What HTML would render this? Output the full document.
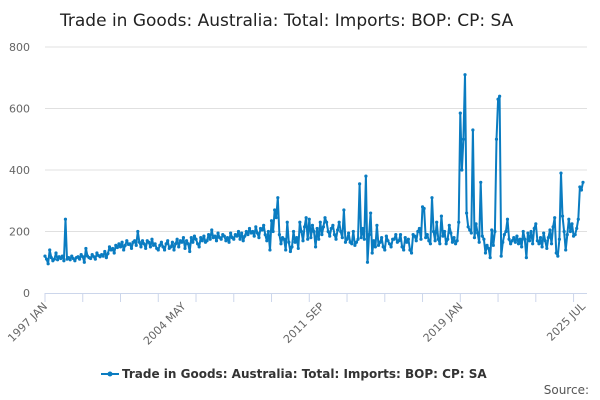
<!DOCTYPE html>
<html><head><meta charset="utf-8"><style>
body{margin:0;background:#fff;font-family:"DejaVu Sans","Liberation Sans",sans-serif}
svg{display:block;font-family:"DejaVu Sans","Liberation Sans",sans-serif}
</style></head><body>
<svg id="chart" width="600" height="400">
<text x="60" y="26" font-size="17" fill="#222">Trade in Goods: Australia: Total: Imports: BOP: CP: SA</text>
<g id="grid"></g><g id="axes"></g><g id="series"></g>
<g>
<line x1="101" y1="374" x2="119" y2="374" stroke="#0a7cc1" stroke-width="2"/>
<circle cx="110" cy="374" r="2.5" fill="#0a7cc1"/>
<text x="122" y="378" font-size="12" font-weight="bold" fill="#333">Trade in Goods: Australia: Total: Imports: BOP: CP: SA</text>
</g>
<text x="589" y="394" font-size="12" fill="#555" text-anchor="end">Source:</text>
</svg>
<script>
const startYear = 1997;
const yTicks = [0,200,400,600,800];
const xTickLabels = ["1997 JAN","2004 MAY","2011 SEP","2019 JAN","2025 JUL"];
const xTickIndex = [0,88,176,264,342];
const values = [
120,110,95,140,115,105,110,130,108,118,112,120,
105,240,110,115,108,120,112,105,115,118,110,125,
118,100,145,120,115,112,125,118,110,130,122,118,
125,120,135,115,128,150,140,145,130,155,148,160,
150,165,140,155,170,158,160,145,165,170,155,200,
165,150,170,160,145,170,165,150,175,155,160,145,
140,155,165,150,140,160,170,145,150,165,140,160,
175,150,170,165,180,145,170,160,135,180,165,185,
175,160,150,180,170,185,165,170,190,175,205,180,
185,170,195,180,175,190,185,170,180,165,195,180,
175,190,185,200,175,195,170,185,200,190,210,195,
200,185,215,195,180,210,205,220,190,170,200,140,
235,200,270,245,310,190,160,180,175,140,230,165,
135,150,200,165,180,145,230,200,170,215,245,175,
240,180,220,200,150,210,175,230,190,215,245,230,
200,185,210,220,190,175,205,230,200,180,270,165,
175,195,165,160,200,155,165,175,355,180,210,175,
380,100,190,260,130,170,150,220,155,165,180,150,
140,185,170,160,150,175,175,190,165,170,190,150,
140,180,165,175,140,130,190,185,170,200,210,175,
280,275,180,190,170,160,310,200,170,230,175,160,
250,185,200,160,175,220,195,165,180,160,170,230,
585,400,500,710,260,215,205,195,530,180,225,195,
165,360,185,175,130,155,145,115,205,155,200,500,
630,640,120,165,190,200,240,175,160,170,180,165,
185,160,175,150,200,175,115,195,170,200,160,210,
225,170,160,180,150,195,170,145,180,205,160,215,
245,130,120,175,390,250,200,140,190,240,200,225,
185,190,210,240,345,335,360];

const NS="http://www.w3.org/2000/svg";
const x0=45,x1=583,yBase=293,yTop=47;
const n=values.length;
const xs=i=>x0+i*(x1-x0)/(n-1);
const ys=v=>yBase-v*(yBase-yTop)/800;
function mk(tag,attrs,parent){const e=document.createElementNS(NS,tag);for(const k in attrs)e.setAttribute(k,attrs[k]);parent.appendChild(e);return e;}
const grid=document.getElementById('grid'),axes=document.getElementById('axes'),ser=document.getElementById('series');
yTicks.forEach(t=>{
  if(t>0){const l=mk('line',{x1:x0,x2:x1+4,y1:ys(t),y2:ys(t),stroke:'#e0e0e0'},grid);
  
  }
  const tx=mk('text',{x:30,y:ys(t)+4,'font-size':11,fill:'#666','text-anchor':'end'},axes);
  tx.textContent=t;
  
  
});
const ax=mk('line',{x1:x0,x2:x1+4,y1:yBase+0.5,y2:yBase+0.5,stroke:'#ccd6eb'},axes);


for(let y=0;y<=28;y+=2){
  const xt=xs(y*12);
  if(xt>x1+1)break;
  const tk=mk('line',{x1:xt,x2:xt,y1:yBase,y2:yBase+9,stroke:'#ccd6eb'},axes);
  
  
}
xTickLabels.forEach((lab,i)=>{
  const xt=xs(xTickIndex[i]);
  const t=mk('text',{x:xt+3,y:yBase+14,'font-size':11,fill:'#666','text-anchor':'end',transform:`rotate(-45 ${xt+3} ${yBase+14})`},axes);
  t.textContent=lab;
  
  
});
let d='';values.forEach((v,i)=>{d+=(i?'L':'M')+xs(i).toFixed(1)+' '+ys(v).toFixed(1);});
const p=mk('path',{d:d,fill:'none',stroke:'#0a7cc1','stroke-width':2,'stroke-linejoin':'round'},ser);


values.forEach((v,i)=>{
  const c=mk('circle',{cx:xs(i),cy:ys(v),r:1.6,fill:'#0a7cc1'},ser);
  
  
});
</script>
</body></html>
